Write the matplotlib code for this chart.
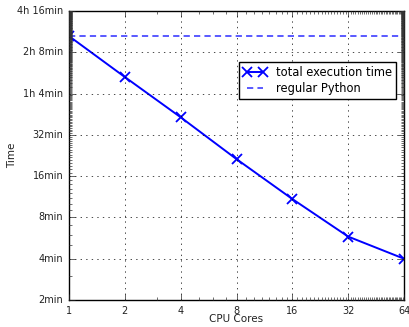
import matplotlib
matplotlib.use('Agg')
import matplotlib.pyplot as plt
from matplotlib.ticker import FuncFormatter, FixedLocator, NullFormatter

plt.style.use('classic')

# measured runtimes (minutes) per number of cores
cores = [1, 2, 4, 8, 16, 32, 64]
total_minutes = [168, 84.5, 43, 21.3, 10.9, 5.8, 4.0]
regular_python_minutes = 168

y_ticks = [2, 4, 8, 16, 32, 64, 128, 256]


def fmt_minutes(v, pos):
    h, m = divmod(int(round(v)), 60)
    if h:
        return '%dh %dmin' % (h, m)
    return '%dmin' % m


fig = plt.figure(figsize=(4.09, 3.27), dpi=100, facecolor='white')
ax = fig.add_axes([69 / 409, 27 / 327, 335 / 409, 289 / 327])

ax.plot(cores, total_minutes, 'bx-', label='total execution time',
        linewidth=1.4, markersize=7, markeredgewidth=1.3)
ax.axhline(regular_python_minutes, color='b', linestyle='--', dashes=(4.5, 3),
           alpha=0.65, label='regular Python', linewidth=1.4)

ax.set_xscale('log', base=2)
ax.set_yscale('log', base=2)
ax.set_xlim(1, 64)
ax.set_ylim(2, 256)
ax.xaxis.set_major_locator(FixedLocator(cores))
ax.xaxis.set_major_formatter(FuncFormatter(lambda v, p: '%d' % v))
ax.xaxis.set_minor_locator(FixedLocator([i for i in range(1, 65) if i not in cores]))
ax.xaxis.set_minor_formatter(NullFormatter())
ax.yaxis.set_major_locator(FixedLocator(y_ticks))
ax.yaxis.set_major_formatter(FuncFormatter(fmt_minutes))
ax.yaxis.set_minor_locator(FixedLocator([i for i in range(2, 257) if i not in y_ticks]))
ax.yaxis.set_minor_formatter(NullFormatter())

ax.tick_params(labelsize=7, colors='#222222')
ax.tick_params(which='minor', length=2, width=0.5, colors='#333333')
ax.set_xlabel('CPU Cores', fontsize=7.5, labelpad=-1, color='#222222')
ax.set_ylabel('Time', fontsize=7.5, color='#222222')
ax.yaxis.set_label_coords(-0.155, 0.5)
ax.grid(True)

ax.legend(loc='upper right', bbox_to_anchor=(0.976, 0.824), borderaxespad=0,
          fontsize=8.3, numpoints=2, labelspacing=0.3, borderpad=0.35)

fig.savefig('out.png', dpi=100, facecolor='white')
